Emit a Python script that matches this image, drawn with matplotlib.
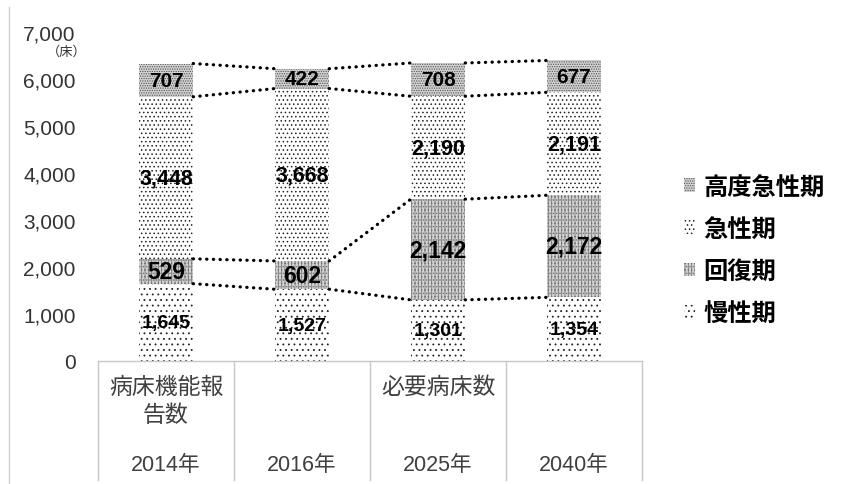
import numpy as np
import matplotlib.pyplot as plt
from matplotlib.transforms import blended_transform_factory

plt.rcParams['font.family'] = ['Liberation Sans', 'Noto Sans CJK JP']
plt.rcParams['hatch.linewidth'] = 0.6

# data
years = ['2014年', '2016年', '2025年', '2040年']
groups = ['病床機能報\n告数', '', '必要病床数', '']
chronic = [1645, 1527, 1301, 1354]
recovery = [529, 602, 2142, 2172]
acute = [3448, 3668, 2190, 2191]
high_acute = [707, 422, 708, 677]

values = [chronic, recovery, acute, high_acute]
faces = ['white', '#d4d4d4', 'white', '#d2d2d2']
hatches = ['...', '|||||.....', '....', '.......']
hcolors = ['#222222', '#777777', '#222222', '#555555']
lsizes = [14, 16.5, 15.5, 15]

fig = plt.figure(figsize=(8.42, 4.85), dpi=100)
ax = fig.add_axes([98 / 842, 123 / 485, 544 / 842, 329 / 485])

x = np.arange(len(years))
w = 0.4
bottom = np.zeros(len(years))
bars = []
for vals, fc, hc, hcol, fs in zip(values, faces, hatches, hcolors, lsizes):
    b = ax.bar(x, vals, w, bottom=bottom, color=fc, hatch=hc,
               edgecolor=hcol, linewidth=0)
    for xi, v, b0 in zip(x, vals, bottom):
        ax.text(xi, b0 + v / 2, f'{v:,}', ha='center', va='center',
                fontsize=fs, fontweight='bold', color='black')
    bars.append(b)
    bottom = bottom + np.array(vals)

# dotted connectors
cum = np.cumsum(np.array(values), axis=0)
for lev in cum:
    for i in range(len(years) - 1):
        ax.plot([x[i] + w / 2, x[i + 1] - w / 2], [lev[i], lev[i + 1]],
                color='black', lw=2.3, linestyle=(0, (0.1, 2.0)),
                dash_capstyle='round')

ax.set_xlim(-0.5, 3.5)
ax.set_ylim(0, 7000)
ax.set_yticks(range(0, 7001, 1000))
ax.set_yticklabels([f'{v:,}' for v in range(0, 7001, 1000)])
ax.tick_params(axis='y', length=0, pad=16, labelsize=15, labelcolor='#333333')
ax.set_xticks([])
for s in ['top', 'right', 'left']:
    ax.spines[s].set_visible(False)
ax.spines['bottom'].set_color('#c8c8c8')
ax.spines['bottom'].set_linewidth(1)

fig.text(67 / 842, 1 - 52 / 485, '（床）', ha='center', va='center',
         fontsize=9.5, color='#333333', family=['Noto Sans CJK JP'])

# category table
tr = blended_transform_factory(ax.transData, ax.transAxes)
ybot = -(481 - 362) / 329
for bx in [-0.5, 0.5, 1.5, 2.5, 3.5]:
    ax.plot([bx, bx], [0, ybot], transform=tr, color='#c8c8c8', lw=1,
            clip_on=False)
for xi, g, yr in zip(x, groups, years):
    if g:
        ax.text(xi, -(376 - 362) / 329, g, transform=tr, ha='center',
                va='top', fontsize=16.5, color='#404040', linespacing=1.3,
                family=['Noto Sans CJK JP'])
    ax.text(xi, -(466 - 362) / 329, yr, transform=tr, ha='center',
            va='center', fontsize=15.5, color='#404040')

# legend
handles = [bars[3], bars[2], bars[1], bars[0]]
labels = ['高度急性期', '急性期', '回復期', '慢性期']
fig.legend(handles, labels, loc='center left',
           bbox_to_anchor=(662 / 842, 1 - 251 / 485), frameon=False,
           handlelength=0.45, handleheight=0.5, handletextpad=0.35,
           labelspacing=0.75, prop={'family': ['Noto Sans CJK JP'],
                                    'size': 17.5, 'weight': 'bold'})

# chart border at left edge
fig.add_artist(plt.Line2D([8.5 / 842, 8.5 / 842], [0, 1 - 8 / 485],
                          color='#d0d0d0', lw=1))

fig.savefig('out.png', dpi=100)
